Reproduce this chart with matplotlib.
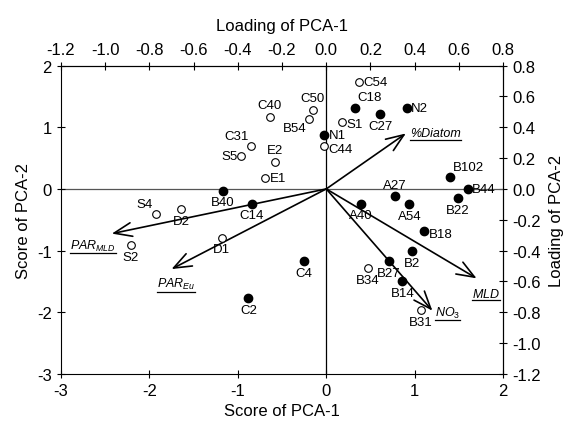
import numpy as np
import matplotlib
matplotlib.use('Agg')
import matplotlib.pyplot as plt
from matplotlib.lines import Line2D
from matplotlib.ticker import FuncFormatter

plt.rcParams['font.family'] = ['Liberation Sans', 'DejaVu Sans']
plt.rcParams['axes.unicode_minus'] = False
plt.rcParams['mathtext.fontset'] = 'custom'
plt.rcParams['mathtext.rm'] = 'Liberation Sans'
plt.rcParams['mathtext.it'] = 'Liberation Sans:italic'

# sample scores (PCA-1, PCA-2); open = hollow markers
open_names = ['C40', 'C50', 'B54', 'C44', 'C31', 'S5', 'E2', 'E1', 'S4', 'D2',
              'S2', 'D1', 'C54', 'S1', 'B34', 'B31']
open_x = [-0.64, -0.15, -0.19, -0.02, -0.85, -0.96, -0.58, -0.69, -1.93, -1.64,
          -2.21, -1.18, 0.37, 0.18, 0.47, 1.07]
open_y = [1.17, 1.28, 1.13, 0.70, 0.70, 0.54, 0.44, 0.17, -0.41, -0.33,
          -0.91, -0.79, 1.73, 1.09, -1.29, -1.97]

filled_names = ['N1', 'B40', 'C14', 'C4', 'C2', 'C18', 'N2', 'C27', 'B102', 'B44',
                'A27', 'B22', 'A40', 'A54', 'B18', 'B2', 'B27', 'B14']
filled_x = [-0.02, -1.17, -0.84, -0.25, -0.88, 0.32, 0.91, 0.61, 1.40, 1.60,
            0.78, 1.49, 0.39, 0.94, 1.11, 0.97, 0.71, 0.86]
filled_y = [0.88, -0.03, -0.24, -1.17, -1.77, 1.32, 1.32, 1.21, 0.19, 0.00,
            -0.12, -0.15, -0.24, -0.25, -0.68, -1.01, -1.17, -1.50]

# variable loadings (PCA-1, PCA-2)
var_labels = [r'%Diatom', r'$PAR_{MLD}$', r'$PAR_{Eu}$', r'$MLD$', r'$NO_3$']
load_x = [0.36, -0.97, -0.70, 0.68, 0.48]
load_y = [0.36, -0.29, -0.52, -0.58, -0.79]
scale = 0.4  # loading = score * scale

loading_ticks = [-1.2, -1.0, -0.8, -0.6, -0.4, -0.2, 0.0, 0.2, 0.4, 0.6, 0.8]
score_ticks = [-3, -2, -1, 0, 1, 2]

# where each label sits relative to its point
label_side = {
    'C40': 'above', 'C50': 'above', 'B54': 'bl', 'N1': 'right', 'C44': 'br',
    'C31': 'ul', 'S5': 'left', 'E2': 'above', 'E1': 'right', 'B40': 'below',
    'C14': 'below', 'S4': 'ul', 'D2': 'below', 'S2': 'below', 'D1': 'below',
    'C4': 'below', 'C2': 'below', 'C54': 'right', 'C18': 'ur', 'N2': 'right',
    'C27': 'below', 'S1': 'br', 'B102': 'ur', 'B44': 'right', 'A27': 'above',
    'B22': 'below', 'A40': 'below', 'A54': 'below', 'B18': 'br', 'B2': 'below',
    'B27': 'below', 'B34': 'below', 'B14': 'below', 'B31': 'below',
}
sides = {
    'above': ((0, 4), 'center', 'bottom'),
    'below': ((0, -4), 'center', 'top'),
    'right': ((3, 0), 'left', 'center'),
    'left': ((-3, 0), 'right', 'center'),
    'ul': ((-2, 3), 'right', 'bottom'),
    'ur': ((2, 3), 'left', 'bottom'),
    'bl': ((-2, -2), 'right', 'top'),
    'br': ((3, -2), 'left', 'center'),
}
var_side = [((3, 0), 'left', 'center'), ((3, -3), 'right', 'top'),
            ((3, -5), 'center', 'top'), ((7, -6), 'center', 'top'),
            ((2, -1), 'left', 'center')]

fig = plt.figure(figsize=(5.75, 4.27), dpi=100)
ax = fig.add_axes([0.106, 0.122, 0.769, 0.722])
ax.set_xlim(-3, 2)
ax.set_ylim(-3, 2)
ax.axhline(0, color='#555555', lw=0.9, zorder=1)
ax.axvline(0, color='black', lw=0.9, zorder=1)

ax.plot(open_x, open_y, 'o', mfc='white', mec='black', mew=0.8, ms=5.5, zorder=3)
ax.plot(filled_x, filled_y, 'o', mfc='black', mec='black', ms=6, zorder=3)

for names, xs, ys in [(open_names, open_x, open_y), (filled_names, filled_x, filled_y)]:
    for n, x, y in zip(names, xs, ys):
        off, ha, va = sides[label_side[n]]
        ax.annotate(n, (x, y), xytext=off, textcoords='offset points',
                    ha=ha, va=va, fontsize=9.5, zorder=4)

texts = []
for lab, lx, ly, (off, ha, va) in zip(var_labels, load_x, load_y, var_side):
    tx, ty = lx / scale, ly / scale
    ax.annotate('', xy=(tx, ty), xytext=(0, 0),
                arrowprops=dict(arrowstyle='->,head_length=0.85,head_width=0.33',
                                lw=1.2, color='black', shrinkA=0, shrinkB=0,
                                mutation_scale=15), zorder=2)
    t = ax.annotate(lab, (tx, ty), xytext=off, textcoords='offset points',
                    ha=ha, va=va, fontsize=9, style='italic', zorder=4)
    texts.append(t)

fmt = FuncFormatter(lambda v, pos: '%.1f' % (0.0 if abs(v) < 1e-9 else v))

ax.set_xticks(score_ticks)
ax.set_yticks(score_ticks)
ax.tick_params(direction='inout', length=6, labelsize=12, width=0.8)
ax.set_xlabel('Score of PCA-1', fontsize=12)
ax.set_ylabel('Score of PCA-2', fontsize=12)

top = ax.secondary_xaxis('top', functions=(lambda v: v * scale, lambda v: v / scale))
top.set_xticks(loading_ticks)
top.xaxis.set_major_formatter(fmt)
top.tick_params(direction='inout', length=6, labelsize=12, width=0.8)
top.set_xlabel('Loading of PCA-1', fontsize=12, labelpad=8)

right = ax.secondary_yaxis('right', functions=(lambda v: v * scale, lambda v: v / scale))
right.set_yticks(loading_ticks)
right.yaxis.set_major_formatter(fmt)
right.tick_params(direction='inout', length=6, labelsize=12, width=0.8)
right.set_ylabel('Loading of PCA-2', fontsize=12, labelpad=6)

# underline the variable labels
fig.canvas.draw()
r = fig.canvas.get_renderer()
for t in texts:
    bb = t.get_window_extent(r)
    x0, x1 = bb.x0 / fig.bbox.width, bb.x1 / fig.bbox.width
    yb = (bb.y0 - 0.5) / fig.bbox.height
    fig.add_artist(Line2D([x0, x1], [yb, yb], color='black', lw=0.9))

fig.savefig('out.png', dpi=100)
